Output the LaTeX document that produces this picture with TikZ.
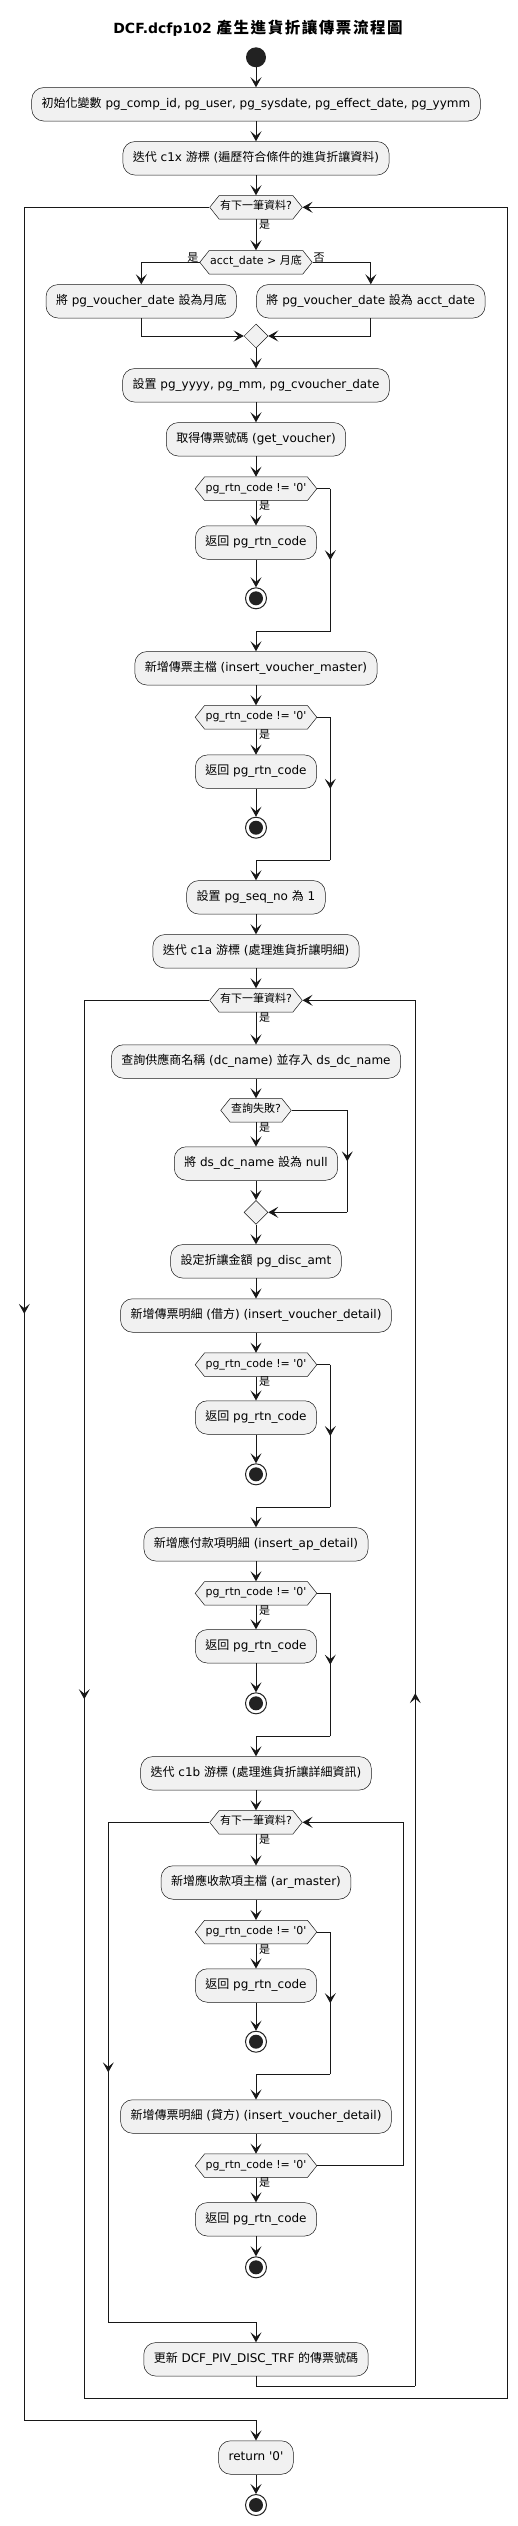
\documentclass[tikz,border=0pt]{standalone}
\usepackage{fontspec}
\setmainfont{DejaVu Sans}[Ligatures=TeXOff]
\newfontfamily\cjk{Noto Sans CJK TC}
\newfontfamily\cjkwide{Noto Sans CJK TC}[LetterSpace=10]
\usetikzlibrary{shapes.geometric, shapes.symbols, arrows.meta, decorations.markings}
\newcommand*\zh[1]{{\cjk #1}}
\definecolor{ink}{HTML}{181818}
\definecolor{boxfill}{HTML}{F1F1F1}
\definecolor{dot}{HTML}{222222}
\tikzset{
  >={Stealth[length=10pt,width=11pt,inset=4.5pt]},
  act/.style={rectangle, rounded corners=12pt, draw=ink, line width=0.5pt, fill=boxfill,
    inner xsep=10pt, inner ysep=10.75pt, text height=9pt, text depth=3pt,
    font=\fontsize{12}{14}\selectfont},
  cond/.style={signal, signal to=east and west, signal pointer angle=103, draw=ink,
    line width=0.5pt, fill=boxfill, inner xsep=1pt, inner ysep=6.25pt,
    text height=8pt, text depth=3pt, font=\fontsize{11}{13}\selectfont},
  merge/.style={diamond, draw=ink, line width=0.5pt, fill=boxfill, minimum width=24pt,
    minimum height=24pt, inner sep=0pt},
  startdot/.style={circle, fill=dot, minimum size=20pt, inner sep=0pt},
  stopdot/.style={circle, draw=dot, line width=1pt, fill=white, minimum size=21pt, inner sep=0pt,
    path picture={\fill[dot] (path picture bounding box.center) circle (7pt);}},
  yes/.style={inner sep=0pt, font=\fontsize{11}{13}\selectfont},
  wire/.style={draw=ink, line width=1pt},
  flow/.style={wire, ->},
  midarrow/.style={postaction={decorate}, decoration={markings,
    mark=at position 0.5 with {\arrow{>}}}}
}

\begin{document}
\begin{tikzpicture}[x=1pt, y=-1pt]
  \useasboundingbox (0,0) rectangle (518,2526);

  \node[font=\fontsize{14}{17}\selectfont\bfseries] (title) at (258,28)
    {DCF.dcfp102 {\cjkwide\fontsize{15.5}{17}\selectfont 產生進貨折讓傳票流程圖}};

  % main column
  \node[startdot] (start) at (256,57.3) {};
  \node[act] (init) at (256,104.3) {\zh{初始化變數} pg\_comp\_id, pg\_user, pg\_sysdate, pg\_effect\_date, pg\_yymm};
  \node[act] (cur1) at (256,158.3) {\zh{迭代} c1x \zh{游標} (\zh{遍歷符合條件的進貨折讓資料})};
  \node[cond] (loop1) at (256,207.3) {\zh{有下一筆資料}?};
  \node[cond] (acct) at (256,262.3) {acct\_date > \zh{月底}};
  \node[act] (eom) at (141.3,301.3) {\zh{將} pg\_voucher\_date \zh{設為月底}};
  \node[act] (eqd) at (370.8,301.3) {\zh{將} pg\_voucher\_date \zh{設為} acct\_date};
  \node[merge] (mg1) at (256,336) {};
  \node[act] (ym) at (256,385.3) {\zh{設置} pg\_yyyy, pg\_mm, pg\_cvoucher\_date};
  \node[act] (getv) at (256,439.3) {\zh{取得傳票號碼} (get\_voucher)};
  \node[cond] (chk1) at (256,488.7) {pg\_rtn\_code != '0'};
  \node[act] (ret1) at (256,542.5) {\zh{返回} pg\_rtn\_code};
  \node[stopdot] (end1) at (256,598.3) {};
  \node[act] (vmst) at (256,668.3) {\zh{新增傳票主檔} (insert\_voucher\_master)};
  \node[cond] (chk2) at (256,717.3) {pg\_rtn\_code != '0'};
  \node[act] (ret2) at (256,771.7) {\zh{返回} pg\_rtn\_code};
  \node[stopdot] (end2) at (256,827.7) {};
  \node[act] (seq) at (256,897.3) {\zh{設置} pg\_seq\_no \zh{為} 1};
  \node[act] (cur2) at (256,951.3) {\zh{迭代} c1a \zh{游標} (\zh{處理進貨折讓明細})};

  % c1a loop
  \node[cond] (loop2) at (256,1000.3) {\zh{有下一筆資料}?};
  \node[act] (dcn) at (256,1061.5) {\zh{查詢供應商名稱} (dc\_name) \zh{並存入} ds\_dc\_name};
  \node[cond] (fail) at (256,1110.3) {\zh{查詢失敗}?};
  \node[act] (nul) at (256,1163.5) {\zh{將} ds\_dc\_name \zh{設為} null};
  \node[merge] (mg2) at (256,1212.3) {};
  \node[act] (amt) at (256,1261.3) {\zh{設定折讓金額} pg\_disc\_amt};
  \node[act] (vdr) at (256,1315.5) {\zh{新增傳票明細} (\zh{借方}) (insert\_voucher\_detail)};
  \node[cond] (chk3) at (256,1364.7) {pg\_rtn\_code != '0'};
  \node[act] (ret3) at (256,1417.5) {\zh{返回} pg\_rtn\_code};
  \node[stopdot] (end3) at (256,1474.3) {};
  \node[act] (apd) at (256,1544.3) {\zh{新增應付款項明細} (insert\_ap\_detail)};
  \node[cond] (chk4) at (256,1593.3) {pg\_rtn\_code != '0'};
  \node[act] (ret4) at (256,1646.3) {\zh{返回} pg\_rtn\_code};
  \node[stopdot] (end4) at (256,1703.3) {};
  \node[act] (cur3) at (256,1773.3) {\zh{迭代} c1b \zh{游標} (\zh{處理進貨折讓詳細資訊})};

  % c1b loop
  \node[cond] (loop3) at (256,1822.3) {\zh{有下一筆資料}?};
  \node[act] (arm) at (256,1882.5) {\zh{新增應收款項主檔} (ar\_master)};
  \node[cond] (chk5) at (256,1932) {pg\_rtn\_code != '0'};
  \node[act] (ret5) at (256,1985.5) {\zh{返回} pg\_rtn\_code};
  \node[stopdot] (end5) at (256,2041.7) {};
  \node[act] (vcr) at (256,2116.5) {\zh{新增傳票明細} (\zh{貸方}) (insert\_voucher\_detail)};
  \node[cond] (chk6) at (256,2165.7) {pg\_rtn\_code != '0'};
  \node[act] (ret6) at (256,2219.3) {\zh{返回} pg\_rtn\_code};
  \node[stopdot] (end6) at (256,2267.3) {};
  \node[act] (upd) at (256,2359.3) {\zh{更新} DCF\_PIV\_DISC\_TRF \zh{的傳票號碼}};
  \node[act] (ret0) at (256,2457.5) {return '0'};
  \node[stopdot] (end0) at (256,2505) {};

  % branch labels
  \node[yes, anchor=north west] (y1) at ([xshift=3pt]loop1.south) {\zh{是}};
  \node[yes, anchor=south east] (y2) at ([xshift=-1pt]acct.west) {\zh{是}};
  \node[yes, anchor=south west] (n2) at ([xshift=1pt]acct.east) {\zh{否}};
  \node[yes, anchor=north west] (y3) at ([xshift=3pt]chk1.south) {\zh{是}};
  \node[yes, anchor=north west] (y4) at ([xshift=3pt]chk2.south) {\zh{是}};
  \node[yes, anchor=north west] (y5) at ([xshift=3pt]loop2.south) {\zh{是}};
  \node[yes, anchor=north west] (y6) at ([xshift=3pt]fail.south) {\zh{是}};
  \node[yes, anchor=north west] (y7) at ([xshift=3pt]chk3.south) {\zh{是}};
  \node[yes, anchor=north west] (y8) at ([xshift=3pt]chk4.south) {\zh{是}};
  \node[yes, anchor=north west] (y9) at ([xshift=3pt]loop3.south) {\zh{是}};
  \node[yes, anchor=north west] (y10) at ([xshift=3pt]chk5.south) {\zh{是}};
  \node[yes, anchor=north west] (y11) at ([xshift=3pt]chk6.south) {\zh{是}};

  % bends
  \coordinate (k1a) at (330.3,488.7);
  \coordinate (k1b) at (330.3,631.7);
  \coordinate (k2a) at (330.3,717.3);
  \coordinate (k2b) at (330.3,860.3);
  \coordinate (fa) at (347.3,1110.3);
  \coordinate (fb) at (347.3,1212.3);
  \coordinate (k3a) at (330.3,1364.7);
  \coordinate (k3b) at (330.3,1507.3);
  \coordinate (k4a) at (330.3,1593.3);
  \coordinate (k4b) at (330.3,1736);
  \coordinate (k5a) at (330.3,1932);
  \coordinate (k5b) at (330.3,2074.3);
  \coordinate (k6a) at (403.7,2165.7);
  \coordinate (k6b) at (403.7,1822.3);
  \coordinate (x3a) at (108.3,1822.3);
  \coordinate (x3b) at (108.3,2322.3);
  \coordinate (b2a) at (415.3,2386);
  \coordinate (b2b) at (415.3,1000.3);
  \coordinate (x2a) at (84.3,1000.3);
  \coordinate (x2b) at (84.3,2398);
  \coordinate (b1a) at (507.3,2398);
  \coordinate (b1b) at (507.3,207.3);
  \coordinate (x1a) at (24.3,207.3);
  \coordinate (x1b) at (24.3,2420.3);

  % top part
  \draw[flow] (start) -- (init);
  \draw[flow] (init) -- (cur1);
  \draw[flow] (cur1) -- (loop1.north);
  \draw[flow] (loop1.south) -- (acct.north);
  \draw[flow] (acct.west) -| (eom.north);
  \draw[flow] (acct.east) -| (eqd.north);
  \draw[flow] (eom.south) |- (mg1.west);
  \draw[flow] (eqd.south) |- (mg1.east);
  \draw[flow] (mg1) -- (ym);
  \draw[flow] (ym) -- (getv);
  \draw[flow] (getv) -- (chk1.north);
  \draw[flow] (chk1.south) -- (ret1);
  \draw[flow] (ret1) -- (end1);
  \draw[wire] (chk1.east) -- (k1a);
  \draw[wire, midarrow] (k1a) -- (k1b);
  \draw[flow] (k1b) -| (vmst.north);
  \draw[flow] (vmst) -- (chk2.north);
  \draw[flow] (chk2.south) -- (ret2);
  \draw[flow] (ret2) -- (end2);
  \draw[wire] (chk2.east) -- (k2a);
  \draw[wire, midarrow] (k2a) -- (k2b);
  \draw[flow] (k2b) -| (seq.north);
  \draw[flow] (seq) -- (cur2);
  \draw[flow] (cur2) -- (loop2.north);

  % c1a loop body
  \draw[flow] (loop2.south) -- (dcn);
  \draw[flow] (dcn) -- (fail.north);
  \draw[flow] (fail.south) -- (nul);
  \draw[flow] (nul) -- (mg2);
  \draw[wire] (fail.east) -- (fa);
  \draw[wire, midarrow] (fa) -- (fb);
  \draw[flow] (fb) -- (mg2.east);
  \draw[flow] (mg2) -- (amt);
  \draw[flow] (amt) -- (vdr);
  \draw[flow] (vdr) -- (chk3.north);
  \draw[flow] (chk3.south) -- (ret3);
  \draw[flow] (ret3) -- (end3);
  \draw[wire] (chk3.east) -- (k3a);
  \draw[wire, midarrow] (k3a) -- (k3b);
  \draw[flow] (k3b) -| (apd.north);
  \draw[flow] (apd) -- (chk4.north);
  \draw[flow] (chk4.south) -- (ret4);
  \draw[flow] (ret4) -- (end4);
  \draw[wire] (chk4.east) -- (k4a);
  \draw[wire, midarrow] (k4a) -- (k4b);
  \draw[flow] (k4b) -| (cur3.north);
  \draw[flow] (cur3) -- (loop3.north);

  % c1b loop body
  \draw[flow] (loop3.south) -- (arm);
  \draw[flow] (arm) -- (chk5.north);
  \draw[flow] (chk5.south) -- (ret5);
  \draw[flow] (ret5) -- (end5);
  \draw[wire] (chk5.east) -- (k5a);
  \draw[wire, midarrow] (k5a) -- (k5b);
  \draw[flow] (k5b) -| (vcr.north);
  \draw[flow] (vcr) -- (chk6.north);
  \draw[flow] (chk6.south) -- (ret6);
  \draw[flow] (ret6) -- (end6);
  \draw[flow] (chk6.east) -- (k6a) -- (k6b) -- (loop3.east);

  % loop exits and returns
  \draw[wire] (loop3.west) -- (x3a);
  \draw[wire, midarrow] (x3a) -- (x3b);
  \draw[flow] (x3b) -| (upd.north);
  \draw[wire] (upd.south) |- (b2a);
  \draw[wire, midarrow] (b2a) -- (b2b);
  \draw[flow] (b2b) -- (loop2.east);
  \draw[wire] (loop2.west) -- (x2a);
  \draw[wire, midarrow] (x2a) -- (x2b);
  \draw[flow] (x2b) -- (b1a) -- (b1b) -- (loop1.east);
  \draw[wire] (loop1.west) -- (x1a);
  \draw[wire, midarrow] (x1a) -- (x1b);
  \draw[flow] (x1b) -| (ret0.north);
  \draw[flow] (ret0) -- (end0);
\end{tikzpicture}
\end{document}
